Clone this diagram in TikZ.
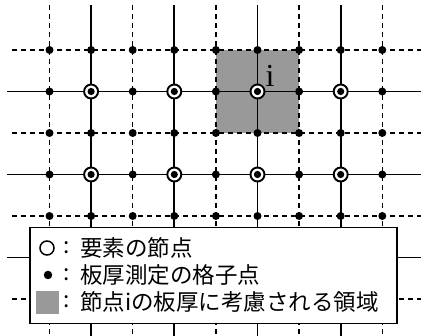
\documentclass[tikz,border=0pt]{standalone}
\usepackage{fontspec}
\newfontfamily\cjk{Noto Sans CJK JP}
\newfontfamily\serifi{Liberation Serif}
\begin{document}
\begin{tikzpicture}[x=1pt,y=-1pt,
  solidline/.style={line width=1.7pt},
  dashline/.style={line width=1.3pt, dash pattern=on 5pt off 4pt},
  gdot/.style={circle, fill=black, inner sep=0pt, minimum size=8pt},
  enode/.style={circle, draw=black, line width=1.9pt, fill=white, inner sep=0pt, minimum size=14pt,
    path picture={\fill[black] (path picture bounding box.center) circle (3.6pt);}},
  regionfill/.style={fill=black!40},
  legtext/.style={font=\cjk\fontsize{22.5}{24}\selectfont, anchor=west, inner sep=0pt}]
\useasboundingbox (0,0) rectangle (421,336);
% grid coordinates
\foreach \i in {0,...,8}{
  \foreach \j in {0,...,6}{
    \coordinate (g\i-\j) at ({49.5+41.6*\i},{50+41.5*\j});
  }
  \coordinate (t\i) at ({49.5+41.6*\i},5);
  \coordinate (b\i) at ({49.5+41.6*\i},336);
}
\foreach \j in {0,...,6}{
  \coordinate (ls\j) at (7,{50+41.5*\j});
  \coordinate (ld\j) at (12,{50+41.5*\j});
  \coordinate (r\j) at (421,{50+41.5*\j});
}
% region of node i
\fill[regionfill] (g4-0) rectangle (g6-2);
% grid lines
\foreach \i in {0,2,4,6,8} \draw[dashline] (t\i) -- (b\i);
\foreach \i in {1,3,5,7} \draw[solidline] (t\i) -- (b\i);
\foreach \j in {0,2,4,6} \draw[dashline] (ld\j) -- (r\j);
\foreach \j in {1,3,5} \draw[solidline] (ls\j) -- (r\j);
% measurement points
\foreach \i in {0,...,8}{
  \foreach \j in {0,...,4}{
    \node[gdot] (d\i-\j) at (g\i-\j) {};
  }
}
% element nodes
\foreach \i in {1,3,5,7}{
  \foreach \j in {1,3}{
    \node[enode] (e\i-\j) at (g\i-\j) {};
  }
}
\node[font=\serifi\fontsize{32}{32}\selectfont, anchor=base, inner sep=0pt] (ilabel) at (270,87) {i};
% legend
\node[draw=black, line width=1.5pt, fill=white, anchor=north west, inner sep=0pt,
      minimum width=367pt, minimum height=96pt] (legend) at (29,227) {};
\node[circle, draw=black, line width=1.5pt, fill=white, inner sep=0pt, minimum size=14pt] (sym1) at (47,248) {};
\node[circle, fill=black, inner sep=0pt, minimum size=8.5pt] (sym2) at (48,275) {};
\node[regionfill, inner sep=0pt, minimum size=23pt] (sym3) at (47.5,302.5) {};
\node[legtext, anchor=center] (c1) at (67,248) {:};
\node[legtext, anchor=center] (c2) at (67,275) {:};
\node[legtext, anchor=center] (c3) at (67,302) {:};
\node[legtext] (t1) at (80,248) {要素の節点};
\node[legtext] (t2) at (80,275) {板厚測定の格子点};
\node[legtext] (t3) at (80,302) {節点iの板厚に考慮される領域};
\end{tikzpicture}
\end{document}
